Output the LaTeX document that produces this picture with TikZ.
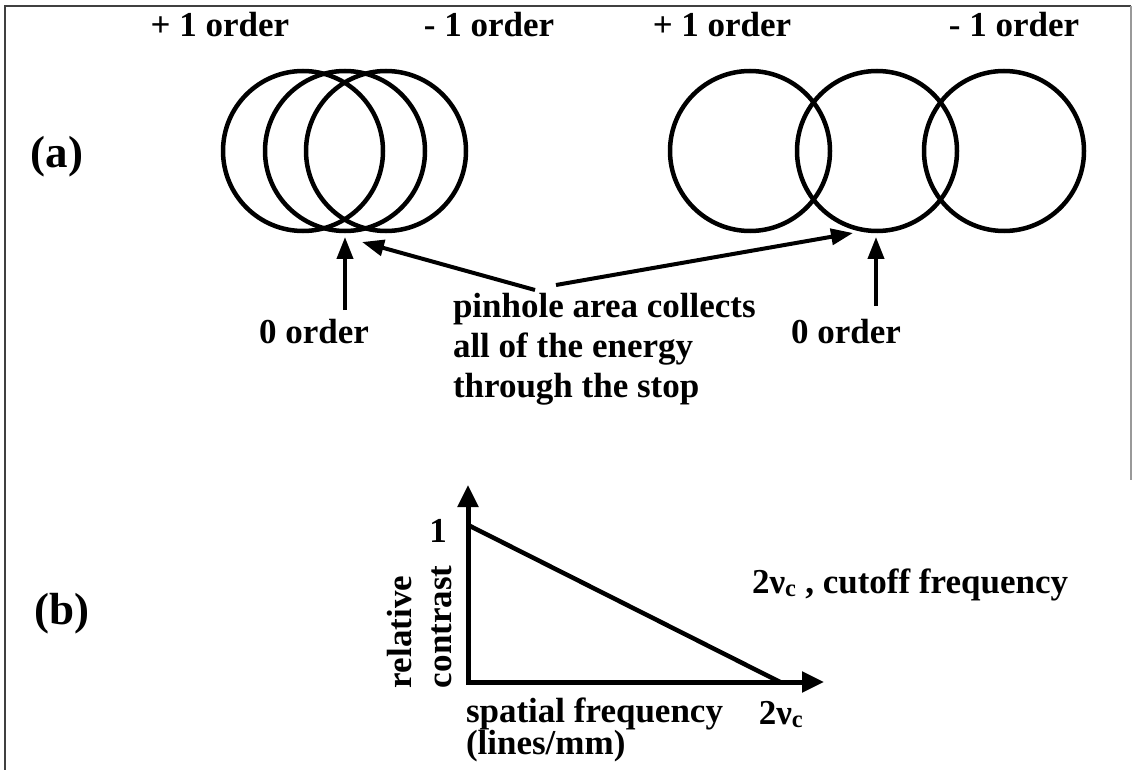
\documentclass[tikz,border=0pt]{standalone}
\usepackage{fontspec}
\setmainfont{Liberation Serif}
\usetikzlibrary{arrows.meta}
\begin{document}
\begin{tikzpicture}[x=1pt,y=-1pt,
  ring/.style={draw,circle,line width=4.5pt,minimum size=160pt,inner sep=0pt,outer sep=0pt},
  lbl/.style={font=\bfseries\fontsize{35}{40}\selectfont,inner sep=0pt,outer sep=0pt},
  part/.style={font=\bfseries\fontsize{45}{50}\selectfont,inner sep=0pt,outer sep=0pt},
  arr/.style={line width=4pt,-{Triangle[length=22pt,width=16pt]}},
  axis/.style={line width=5pt,line join=miter,{Triangle[length=22pt,width=20pt]}-{Triangle[length=22pt,width=20pt]}},
  frame/.style={line width=1.2pt,black!75}]
\useasboundingbox (0,0) rectangle (1133,770);
% frame
\draw[frame] (5,770) -- (5,6) -- (1131,6);
\draw[frame,black!40] (1131,6) -- (1131,480);
% (a) circles
\node[ring] (L1) at (303,151) {};
\node[ring] (L2) at (345,151) {};
\node[ring] (L3) at (386,151) {};
\node[ring] (R1) at (750,151) {};
\node[ring] (R2) at (877,151) {};
\node[ring] (R3) at (1004,151) {};
% order labels
\node[lbl,anchor=base] (lp) at (220,37) {+ 1 order};
\node[lbl,anchor=base] (lm) at (489,37) {- 1 order};
\node[lbl,anchor=base] (rp) at (722,37) {+ 1 order};
\node[lbl,anchor=base] (rm) at (1014,37) {- 1 order};
\node[part,anchor=base] (a) at (57,168) {(a)};
\node[lbl,anchor=base] (zl) at (314,343) {0 order};
\node[lbl,anchor=base] (zr) at (846,343) {0 order};
\node[lbl,anchor=north west,align=left] (pin) at (453,293) {pinhole area collects\\all of the energy\\through the stop};
% arrows (a)
\coordinate (zlb) at (345,310);
\coordinate (zlt) at (345,237);
\coordinate (zrb) at (876,306);
\coordinate (zrt) at (876,237);
\coordinate (pl) at (535,290);
\coordinate (pr) at (556,285);
\coordinate (tl) at (362,242);
\coordinate (tr) at (853,233);
\draw[arr] (zlb) -- (zlt);
\draw[arr] (zrb) -- (zrt);
\draw[arr] (pl) -- (tl);
\draw[arr] (pr) -- (tr);
% (b)
\node[part,anchor=base] (b) at (62,624) {(b)};
\coordinate (O) at (468,682);
\coordinate (yt) at (468,485);
\coordinate (xt) at (824,682);
\coordinate (d1) at (468,525);
\coordinate (d2) at (780,682);
\draw[axis] (yt) -- (O) -- (xt);
\draw[line width=4.5pt] (d1) -- (d2);
\node[lbl,anchor=base] (one) at (438,542) {1};
\node[lbl,rotate=90,align=left,anchor=south west] (rc) at (452,688) {relative\\contrast};
\node[lbl,anchor=north west,align=left,font=\bfseries\fontsize{35}{32}\selectfont] (sf) at (466,698) {spatial frequency\\(lines/mm)};
\node[lbl,anchor=base] (nc) at (781,724) {2ν\textsubscript{c}};
\node[lbl,anchor=base west] (cut) at (752,593) {2ν\textsubscript{c} , cutoff frequency};
\end{tikzpicture}
\end{document}
